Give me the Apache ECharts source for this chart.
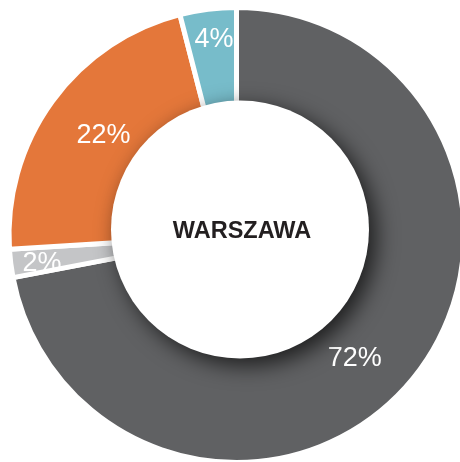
<!DOCTYPE html>
<html>
<head>
<meta charset="utf-8">
<script src="https://cdn.jsdelivr.net/npm/echarts@6/dist/echarts.min.js"></script>
<style>
html, body { margin: 0; padding: 0; background: #fff; }
#chart { width: 460px; height: 462px; }
</style>
</head>
<body>
<div id="chart"></div>
<script>
// dane
var categories = ['Kategoria A', 'Kategoria B', 'Kategoria C', 'Kategoria D'];
var values = [72, 2, 22, 4];
var colors = ['#606163', '#c4c5c7', '#e4773a', '#77bcca'];
var centerLabel = 'WARSZAWA';

// drobne przesuniecia etykiet (styl)
var labelNudge = [[-14, 14], [-24, 7], [6, 1], [-1, -25]];

var chart = echarts.init(document.getElementById('chart'));
var option = {
    animation: false,
    series: [
        {
            name: 'udzial',
            type: 'pie',
            center: [236.5, 235],
            radius: [110, 227.5],
            startAngle: 90,
            clockwise: true,
            silent: true,
            itemStyle: {
                borderColor: '#ffffff',
                borderWidth: 5
            },
            label: {
                show: true,
                position: 'inside',
                color: '#ffffff',
                fontSize: 27,
                fontFamily: 'Liberation Sans, Arial, sans-serif',
                formatter: '{c}%'
            },
            labelLine: { show: false },
            labelLayout: function (p) {
                var n = labelNudge[p.dataIndex] || [0, 0];
                return { dx: n[0], dy: n[1] };
            },
            data: categories.map(function (c, i) {
                return { name: c, value: values[i], itemStyle: { color: colors[i] } };
            })
        },
        {
            name: 'srodek',
            type: 'pie',
            center: [240, 229.5],
            radius: [0, 129],
            silent: true,
            z: 3,
            itemStyle: {
                color: '#ffffff',
                shadowBlur: 22,
                shadowColor: 'rgba(0,0,0,0.7)',
                shadowOffsetX: 7,
                shadowOffsetY: 7
            },
            label: {
                show: true,
                position: 'center',
                formatter: centerLabel,
                color: '#231f20',
                fontSize: 23.5,
                fontWeight: 'bold',
                fontFamily: 'Liberation Sans, Arial, sans-serif'
            },
            labelLayout: function () {
                return { dx: 2, dy: 2 };
            },
            labelLine: { show: false },
            data: [{ name: centerLabel, value: 1 }]
        }
    ]
};
chart.setOption(option);
</script>
</body>
</html>
